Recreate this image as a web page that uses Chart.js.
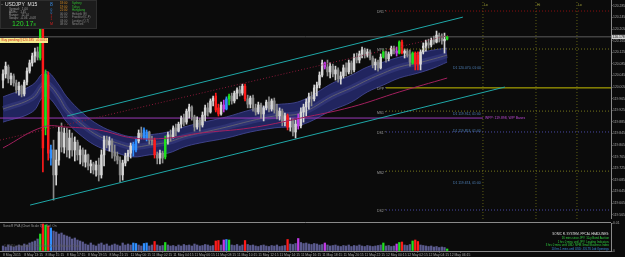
<!DOCTYPE html>
<html>
<head>
<meta charset="utf-8">
<script src="https://cdn.jsdelivr.net/npm/chart.js@4.4.1/dist/chart.umd.min.js"></script>
<style>
  html, body { margin: 0; padding: 0; background: #0b0b0b; }
  body { width: 625px; height: 257px; overflow: hidden; position: relative; }
  #mainBox { position: absolute; left: 0; top: 0; width: 625px; height: 219px; }
  #volBox { position: absolute; left: 0; top: 221px; width: 625px; height: 36px; }
</style>
</head>
<body>
<div id="mainBox"><canvas id="priceChart"></canvas></div>
<div id="volBox"><canvas id="volChart"></canvas></div>
<script>
// USDJPY M15, bars are [open, high, low, close]
const candles = [
  [120.029,120.064,120.002,120.050],[120.050,120.091,120.036,120.077],[120.074,120.081,120.019,120.033],[120.033,120.053,120.012,120.043],
  [120.043,120.050,120.008,120.019],[120.019,120.029,119.984,119.995],[119.995,120.022,119.977,120.008],[120.008,120.012,119.971,119.981],
  [119.981,120.029,119.974,120.022],[120.022,120.071,120.012,120.060],[120.060,120.098,120.053,120.088],[120.088,120.122,120.077,120.112],
  [120.112,120.139,120.091,120.126],[120.126,120.143,120.098,120.108],[120.105,120.243,120.098,120.229],[120.229,120.243,119.712,119.795],
  [119.864,120.064,119.840,120.050],[120.046,120.057,119.753,119.777],[119.760,119.805,119.736,119.788],[119.788,119.822,119.615,119.702],
  [119.702,119.788,119.667,119.753],[119.753,119.867,119.736,119.850],[119.850,119.881,119.781,119.798],[119.798,119.864,119.777,119.846],
  [119.846,119.864,119.764,119.788],[119.788,119.857,119.760,119.829],[119.829,119.846,119.767,119.788],[119.788,119.833,119.750,119.815],
  [119.815,119.822,119.753,119.771],[119.771,119.802,119.740,119.788],[119.788,119.795,119.733,119.746],[119.746,119.788,119.729,119.771],
  [119.771,119.774,119.719,119.733],[119.733,119.753,119.709,119.740],[119.740,119.746,119.705,119.719],[119.719,119.750,119.698,119.736],
  [119.736,119.760,119.681,119.702],[119.702,119.788,119.691,119.771],[119.771,119.836,119.733,119.822],[119.822,119.836,119.795,119.805],
  [119.805,119.833,119.784,119.819],[119.819,119.826,119.760,119.781],[119.781,119.805,119.750,119.767],[119.767,119.781,119.740,119.753],
  [119.753,119.764,119.677,119.702],[119.702,119.753,119.684,119.743],[119.743,119.777,119.733,119.767],[119.767,119.788,119.750,119.777],
  [119.777,119.812,119.760,119.802],[119.788,119.815,119.767,119.808],[119.788,119.826,119.781,119.819],[119.819,119.857,119.812,119.846],
  [119.846,119.867,119.826,119.836],[119.829,119.864,119.826,119.857],[119.826,119.857,119.819,119.850],[119.850,119.853,119.808,119.822],
  [119.822,119.836,119.805,119.819],[119.822,119.829,119.760,119.771],[119.771,119.781,119.740,119.760],[119.760,119.788,119.740,119.777],
  [119.777,119.784,119.743,119.760],[119.764,119.836,119.757,119.829],[119.829,119.850,119.808,119.840],[119.840,119.857,119.819,119.833],
  [119.833,119.871,119.829,119.864],[119.864,119.877,119.836,119.853],[119.853,119.884,119.850,119.877],[119.877,119.905,119.864,119.898],
  [119.898,119.912,119.871,119.884],[119.884,119.929,119.877,119.922],[119.922,119.946,119.898,119.936],[119.936,119.940,119.891,119.902],
  [119.902,119.908,119.853,119.867],[119.867,119.902,119.860,119.891],[119.891,119.898,119.853,119.874],[119.874,119.919,119.867,119.908],
  [119.908,119.943,119.888,119.933],[119.933,119.950,119.905,119.919],[119.919,119.964,119.915,119.957],[119.957,119.974,119.940,119.967],
  [119.974,119.984,119.919,119.926],[119.933,119.946,119.905,119.912],[119.912,119.953,119.908,119.943],[119.943,119.960,119.919,119.929],
  [119.929,119.971,119.926,119.964],[119.964,119.981,119.943,119.974],[119.974,119.984,119.946,119.957],[119.957,119.991,119.950,119.984],
  [119.984,120.002,119.964,119.995],[119.995,120.008,119.974,119.984],[119.984,120.015,119.977,120.008],[120.008,120.015,119.957,119.964],
  [119.964,119.977,119.933,119.946],[119.946,119.974,119.933,119.967],[119.967,119.977,119.922,119.933],[119.933,119.946,119.908,119.919],
  [119.919,119.953,119.912,119.943],[119.943,119.950,119.898,119.912],[119.912,119.940,119.888,119.933],[119.933,119.960,119.926,119.953],
  [119.953,119.971,119.919,119.929],[119.929,119.964,119.922,119.957],[119.957,119.967,119.915,119.926],[119.926,119.946,119.895,119.905],
  [119.905,119.933,119.891,119.922],[119.922,119.929,119.871,119.884],[119.884,119.915,119.871,119.905],[119.905,119.912,119.857,119.867],
  [119.867,119.898,119.853,119.888],[119.888,119.895,119.836,119.850],[119.850,119.891,119.829,119.877],[119.898,119.912,119.860,119.871],
  [119.871,119.933,119.864,119.919],[119.919,119.946,119.884,119.936],[119.936,119.964,119.905,119.953],[119.953,119.984,119.929,119.971],
  [119.971,119.988,119.940,119.964],[119.964,120.012,119.957,120.002],[120.002,120.022,119.974,120.012],[120.012,120.057,120.002,120.046],
  [120.046,120.098,120.040,120.088],[120.088,120.091,120.067,120.074],[120.074,120.098,120.043,120.057],[120.057,120.088,120.036,120.077],
  [120.077,120.084,120.040,120.050],[120.050,120.077,120.029,120.064],[120.064,120.071,120.022,120.033],[120.033,120.057,120.015,120.043],
  [120.043,120.081,120.036,120.071],[120.071,120.088,120.043,120.057],[120.057,120.098,120.050,120.088],[120.088,120.095,120.050,120.064],
  [120.064,120.119,120.057,120.108],[120.108,120.122,120.088,120.098],[120.098,120.129,120.088,120.119],[120.119,120.143,120.105,120.133],
  [120.133,120.139,120.105,120.115],[120.115,120.136,120.108,120.126],[120.126,120.133,120.098,120.105],[120.105,120.112,120.071,120.081],
  [120.081,120.102,120.064,120.091],[120.091,120.098,120.060,120.071],[120.071,120.119,120.067,120.108],[120.108,120.133,120.105,120.126],
  [120.126,120.129,120.091,120.102],[120.102,120.126,120.095,120.119],[120.119,120.146,120.112,120.139],[120.139,120.146,120.119,120.129],
  [120.129,120.143,120.112,120.122],[120.122,120.164,120.119,120.160],[120.160,120.167,120.119,120.122],[120.122,120.136,120.105,120.129],
  [120.129,120.136,120.108,120.115],[120.115,120.133,120.077,120.091],[120.088,120.126,120.084,120.122],[120.122,120.126,120.064,120.084],
  [120.115,120.126,120.064,120.084],[120.084,120.133,120.064,120.126],[120.126,120.157,120.119,120.146],[120.146,120.167,120.129,120.157],
  [120.157,120.170,120.139,120.150],[120.150,120.174,120.143,120.167],[120.167,120.181,120.153,120.160],[120.160,120.198,120.157,120.184],
  [120.184,120.191,120.160,120.174],[120.174,120.188,120.153,120.164],[120.164,120.191,120.122,120.170],[120.170,120.181,120.167,120.177]
];

const volumes = [
  1000,800,1200,1000,800,1000,1200,1000,1400,1200,1600,1800,
  2000,2400,3400,5400,5200,5000,4600,
  4000,3800,3400,3600,3200,3000,2800,2400,2600,2200,2000,1800,
  1400,1200,1600,1200,1000,1400,1600,1200,1400,1000,1200,1400,1200,1000,1600,1200,1400,1200,
  1600,1500,1200,1000,1500,1600,1000,1200,1900,1200,1000,1100,1700,
  1200,1000,1100,900,1200,1000,1300,1100,1200,1000,1400,1200,1000,1100,1300,1200,1000,1100,
  2000,2100,1200,2200,2300,2200,1200,1100,1300,1000,1200,2100,
  1300,1100,1200,1000,900,1100,1200,1000,900,1100,1000,1200,900,1000,1100,
  2300,1400,1300,1500,2500,1700,1500,1600,1400,1300,1500,1400,1200,1300,1600,
  1200,1000,1100,1200,1000,900,1100,1000,1200,900,1100,1000,1200,1000,900,1100,1000,900,1000,1100,1200,
  1600,1000,1100,900,1000,1400,1700,1800,1200,1100,1300,2000,2200,1900,
  1200,1100,1000,900,1000,800,900,700,800,700,400
];

// Sonic R PVA: up = climax bull, down = climax bear, riseUp / riseDown = rising volume
const pvaTypes = {
  14:'up', 15:'down', 16:'up', 17:'down', 18:'riseUp', 49:'riseUp', 50:'riseUp', 53:'riseUp', 54:'riseUp',
  57:'down', 61:'up', 80:'down', 81:'down', 83:'riseDown', 84:'riseUp', 85:'up', 91:'down', 107:'down',
  111:'riseDown', 121:'riseDown', 143:'up', 148:'riseDown', 149:'up', 150:'down', 154:'up', 155:'down',
  156:'down', 167:'up'
};

// dragon band (EMA34 high / low / close) and EMA89, [bar, price]
const dragonTop = [[0,119.971],[11,120.012],[15,120.053],[17,120.057],[21,120.012],[24,119.971],[30,119.915],[36,119.874],[43,119.846],[49,119.833],[55,119.840],[62,119.850],[68,119.867],[74,119.881],[84,119.902],[93,119.926],[102,119.943],[112,119.957],[124,120.019],[131,120.046],[137,120.074],[143,120.091],[149,120.108],[156,120.122],[162,120.133],[167,120.139]];
const dragonBottom = [[0,119.884],[11,119.919],[15,119.971],[17,119.971],[21,119.926],[24,119.884],[30,119.833],[36,119.798],[43,119.777],[49,119.764],[55,119.771],[62,119.777],[68,119.798],[74,119.812],[84,119.829],[93,119.850],[102,119.864],[112,119.874],[124,119.926],[131,119.953],[137,119.988],[143,120.012],[149,120.036],[156,120.053],[162,120.071],[167,120.091]];
const dragonMid = [[0,119.929],[11,119.967],[15,120.012],[17,120.015],[21,119.971],[24,119.926],[30,119.874],[36,119.836],[43,119.812],[49,119.798],[55,119.805],[62,119.815],[68,119.833],[74,119.846],[84,119.867],[93,119.888],[102,119.905],[112,119.915],[124,119.974],[131,120.002],[137,120.029],[143,120.053],[149,120.074],[156,120.088],[162,120.102],[167,120.115]];
const ema89 = [[0,119.795],[15,119.867],[24,119.867],[36,119.857],[49,119.829],[62,119.829],[74,119.846],[93,119.864],[112,119.898],[131,119.936],[149,119.988],[167,120.036]];

// trend channel drawn on the chart
const channelUpper = [[24.1,119.905],[172.9,120.246]];
const channelLower = [[10.2,119.598],[188.7,120.005]];
const channelMid = [[-1.1,119.822],[168.0,120.184]];

const pivotNames = ['DR1','MPP','DPP','MS1','DS1','MS2','DS2'];
const pivotPrices = [120.267,120.136,120.002,119.922,119.850,119.715,119.581];
const pivotStartBar = 144;
const weeklyPivot = 119.898;
const bidPrice = 120.178;

const levelNotes = ['D1 120.070, 01:00','D1 119.912, 01:00','D1 119.853, 01:00','D1 119.674, 01:00'];
const levelNotePrices = [120.070,119.912,119.853,119.674];

const sessionBars = [180.45,200.4,215.8];
const sessionLabels = ['Lo','Hi','Lo'];

const priceTicks = [120.285,120.245,120.205,120.165,120.125,120.085,120.045,120.005,119.965,119.925,119.885,119.845,119.805,119.765,119.725,119.685,119.645,119.605,119.565];
const timeTicks = [0,8,16,24,32,40,48,56,64,72,80,88,96,104,112,120,128,136,144,152,160,168];
const timeLabels = ['8 May 2015','8 May 13:15','8 May 15:15','8 May 17:15','8 May 19:15','8 May 21:15','11 May 00:15','11 May 02:15','11 May 04:15','11 May 06:15','11 May 08:15','11 May 10:15','11 May 12:15','11 May 14:15','11 May 16:15','11 May 18:15','11 May 20:15','11 May 22:15','12 May 00:15','12 May 02:15','12 May 04:15','12 May 06:15'];

const headlines = ['16 mins since JPY: 10-y Bond Auction','1 hrs 0 mins until JPY: Leading Indicators','3 hrs 0 mins until USD: NFIB Small Business Index','10 hrs 1 mins until USD: JOLTS Job Openings'];

const sessions = [['18:00','Sydney'],['19:00','Tokyo'],['21:00','Hongkong'],['00:00','Helsinki (E)'],['01:00','Frankfurt (L,F)'],['03:00','London (Q,T)'],['08:00','NewYork']];

const X_MIN = -1.13, X_MAX = 228.6;
const Y_MIN = 119.550, Y_MAX = 120.305;
const VOL_MAX = 5600;
const FONT = '"Liberation Sans", Arial, sans-serif';

const pvaColors = { up: '#1fe01f', down: '#ff1a1a', riseUp: '#2f8fff', riseDown: '#c23ae8' };
const pivotStyles = {
  DR1: ['#8c1010', [1, 2]], MPP: ['#77771c', [1, 2]], DPP: ['#c9c200', []], MS1: ['#77771c', [1, 2]],
  DS1: ['#4c4ca8', [1, 2]], MS2: ['#77771c', [1, 2]], DS2: ['#4c4ca8', [1, 2]]
};

function pts(arr) { return arr.map(p => ({ x: p[0], y: p[1] })); }

function barColor(i) {
  const t = pvaTypes[i];
  if (t) return pvaColors[t];
  return candles[i][3] >= candles[i][0] ? '#d6d6d6' : '#8a8a8a';
}

function volColor(i) {
  const t = pvaTypes[i];
  return t ? pvaColors[t] : '#5b5b8f';
}

function txt(ctx, s, x, y, size, color, align, weight) {
  ctx.font = (weight || '') + ' ' + size + 'px ' + FONT;
  ctx.fillStyle = color;
  ctx.textAlign = align || 'left';
  ctx.textBaseline = 'middle';
  ctx.fillText(s, x, y);
}

function lineSet(data, color, width, dash, order, extra) {
  return Object.assign({
    type: 'line', data: data, borderColor: color, borderWidth: width, borderDash: dash || [],
    pointRadius: 0, fill: false, tension: 0, order: order
  }, extra || {});
}

window.onload = function () {
  const barColors = candles.map((c, i) => barColor(i));

  const datasets = [
    lineSet(pts(dragonTop), 'rgba(72,76,156,0.8)', 1, [], 40, { fill: '+1', backgroundColor: 'rgba(36,40,104,0.9)', tension: 0.4 }),
    lineSet(pts(dragonBottom), 'rgba(72,76,156,0.8)', 1, [], 39, { tension: 0.4 }),
    lineSet(pts(dragonMid), 'rgba(70,74,150,0.4)', 6, [], 38, { tension: 0.4 }),
    lineSet(pts(dragonMid), '#5e5e70', 1, [], 37, { tension: 0.4 }),
    lineSet([{ x: X_MIN, y: weeklyPivot }, { x: sessionBars[0], y: weeklyPivot }], '#9a3ab8', 1, [], 30),
    lineSet([{ x: X_MIN, y: bidPrice }, { x: X_MAX, y: bidPrice }], '#5c5c5c', 1, [], 30),
    {
      type: 'bar', data: candles.map((c, i) => ({ x: i, y: [c[2], c[1]] })),
      backgroundColor: barColors, barThickness: 1, grouped: false, borderWidth: 0, order: 20
    },
    {
      type: 'bar', data: candles.map((c, i) => ({ x: i, y: [c[0], c[3]] })),
      backgroundColor: barColors, barThickness: 1.8, grouped: false, borderWidth: 0, order: 19
    },
    lineSet(pts(ema89), '#a3205e', 1, [], 5, { tension: 0.4 }),
    lineSet(pts(channelUpper), '#1fa8a8', 1, [], 4),
    lineSet(pts(channelLower), '#1fa8a8', 1, [], 4),
    lineSet(pts(channelMid), '#8a1a3a', 1, [1, 2], 4)
  ];

  pivotNames.forEach((name, k) => {
    const st = pivotStyles[name];
    datasets.push(lineSet([{ x: pivotStartBar, y: pivotPrices[k] }, { x: X_MAX, y: pivotPrices[k] }], st[0], 1, st[1], 8));
  });
  sessionBars.forEach(b => {
    datasets.push(lineSet([{ x: b, y: Y_MIN }, { x: b, y: Y_MAX }], '#5e5e14', 1, [1, 2], 8));
  });

  const mainOverlay = {
    id: 'mainOverlay',
    afterDraw(chart) {
      const ctx = chart.ctx, xs = chart.scales.x, ys = chart.scales.y;
      ctx.save();

      // pivot names
      pivotNames.forEach((name, k) => {
        txt(ctx, name + ' *', xs.getPixelForValue(pivotStartBar) - 9, ys.getPixelForValue(pivotPrices[k]) + 1.5, 3.4, '#a0a0a0');
      });
      levelNotes.forEach((s, k) => {
        txt(ctx, s, xs.getPixelForValue(169.2), ys.getPixelForValue(levelNotePrices[k]), 3.4, '#4f80b8');
      });
      txt(ctx, 'WPP: ' + weeklyPivot.toFixed(3) + ', W/P Bases', xs.getPixelForValue(sessionBars[0]) + 2, ys.getPixelForValue(weeklyPivot), 3.4, '#c04ad8');
      sessionBars.forEach((b, k) => {
        txt(ctx, sessionLabels[k], xs.getPixelForValue(b) + 1, 5, 3.4, '#a8a83a');
      });

      // pending order tag
      ctx.fillStyle = '#f3e98c';
      ctx.fillRect(0, 38, 48, 5);
      txt(ctx, 'Buy pending@120.185  +0.0015', 1.5, 40.6, 3.2, '#d2281a');

      // info panel
      ctx.fillStyle = '#1c1c1c';
      ctx.fillRect(0, 0, 97, 29);
      ctx.strokeStyle = '#2e2e2e';
      ctx.lineWidth = 1;
      ctx.strokeRect(0.5, 0.5, 96, 28);
      txt(ctx, '\u25AA', 1.5, 4, 3, '#bbbbbb');
      txt(ctx, 'USDJPY  M15', 5, 4.5, 5, '#e6e6e6');
      txt(ctx, 'Spread:   1.00', 9, 9.5, 3, '#9a9a9a');
      txt(ctx, 'ADRs:   1.45', 9, 12.5, 3, '#9a9a9a');
      txt(ctx, 'Range:   12.14', 9, 15.5, 3, '#9a9a9a');
      txt(ctx, 'Swaps:  -0.06  -0.08', 9, 18.5, 3, '#9a9a9a');
      txt(ctx, '120.17', 12, 24.5, 7, '#2ad82a');
      txt(ctx, '8', 33.5, 25.3, 4, '#2ad82a');
      txt(ctx, '8', 50, 5, 5, '#3a8ee8');
      txt(ctx, '0', 50.5, 10.3, 3.2, '#3a8ee8');
      txt(ctx, '0', 50.5, 13.3, 3.2, '#3a8ee8');
      txt(ctx, '1', 50.5, 16.3, 3.2, '#d02020');
      txt(ctx, '1', 50.5, 19.3, 3.2, '#d02020');
      txt(ctx, 'M', 50, 24, 3.6, '#d02020');
      sessions.forEach((s, k) => {
        const y = 3.6 + k * 3.5;
        txt(ctx, s[0], 60, y, 2.9, k < 3 ? '#d98a1e' : '#8a8a8a');
        txt(ctx, s[1], 72, y, 2.9, k < 3 ? '#2fbf2f' : '#8a8a8a');
      });

      // current price tag on the axis
      const py = ys.getPixelForValue(bidPrice);
      ctx.fillStyle = '#cfcfcf';
      ctx.fillRect(xs.right + 1, py - 2, 13, 4.2);
      txt(ctx, bidPrice.toFixed(3), xs.right + 1.5, py + 0.1, 3.4, '#101010');
      ctx.restore();
    }
  };

  new Chart(document.getElementById('priceChart'), {
    type: 'bar',
    data: { datasets: datasets },
    options: {
      responsive: true, maintainAspectRatio: false, animation: false, events: [],
      layout: { padding: 0 },
      plugins: { legend: { display: false }, tooltip: { enabled: false } },
      scales: {
        x: { type: 'linear', min: X_MIN, max: X_MAX, offset: false, display: false },
        y: {
          type: 'linear', position: 'right', min: Y_MIN, max: Y_MAX,
          grid: { drawOnChartArea: false, drawTicks: true, tickLength: 1.5, color: '#8a8a8a' },
          border: { display: true, color: '#8a8a8a' },
          ticks: { font: { size: 3.4, family: FONT }, color: '#a6a6a6', padding: 0.5, callback: v => v.toFixed(3) },
          afterBuildTicks: s => { s.ticks = priceTicks.map(v => ({ value: v })); },
          afterFit: s => { s.width = 14; s.paddingTop = 0; s.paddingBottom = 0; }
        }
      }
    },
    plugins: [mainOverlay]
  });

  const volOverlay = {
    id: 'volOverlay',
    afterDraw(chart) {
      const ctx = chart.ctx, area = chart.chartArea;
      ctx.save();
      ctx.strokeStyle = '#8a8a8a';
      ctx.lineWidth = 1;
      ctx.beginPath();
      ctx.moveTo(0, 1.5);
      ctx.lineTo(area.right, 1.5);
      ctx.stroke();
      txt(ctx, 'SonicR PVA (Chart Scale 3)', 3, 5.5, 3.2, '#9a9a9a');
      txt(ctx, 'Vol: On', 46, 5.5, 3.2, '#9a9a9a');
      txt(ctx, '\u00A9 2015 Latinotrader. \u00A9 2015 MetaQuotes Software Corp.', 4, 25.5, 3, '#5e5e5e');
      txt(ctx, 'SONIC R. SYSTEM. PPCAL HEADLINES:', area.right - 2, 13, 3, '#e0e0e0', 'right');
      headlines.forEach((s, k) => {
        txt(ctx, s, area.right - 2, 17.3 + k * 3.6, 2.8, k < 3 ? '#2fcf3f' : '#3a8ee0', 'right');
      });
      ctx.restore();
    }
  };

  new Chart(document.getElementById('volChart'), {
    type: 'bar',
    data: {
      datasets: [{
        data: volumes.map((v, i) => ({ x: i, y: v })),
        backgroundColor: volumes.map((v, i) => volColor(i)),
        barThickness: 1.6, borderWidth: 0
      }]
    },
    options: {
      responsive: true, maintainAspectRatio: false, animation: false, events: [],
      layout: { padding: { top: 2, left: 0, right: 0, bottom: 0 } },
      plugins: { legend: { display: false }, tooltip: { enabled: false } },
      scales: {
        x: {
          type: 'linear', min: X_MIN, max: X_MAX, offset: false, position: 'bottom',
          grid: { drawOnChartArea: false, tickLength: 1.5, color: '#8a8a8a' },
          border: { display: true, color: '#8a8a8a' },
          ticks: {
            font: { size: 3.4, family: FONT }, color: '#a6a6a6', align: 'start', autoSkip: false,
            maxRotation: 0, minRotation: 0, padding: 0.5, callback: (v, i) => timeLabels[i]
          },
          afterBuildTicks: s => { s.ticks = timeTicks.map(v => ({ value: v })); },
          afterFit: s => { s.height = 6; s.paddingLeft = 0; s.paddingRight = 0; }
        },
        y: {
          position: 'right', min: 0, max: VOL_MAX,
          grid: { drawOnChartArea: false, tickLength: 1.5, color: '#8a8a8a' },
          border: { display: true, color: '#8a8a8a' },
          ticks: { font: { size: 3.4, family: FONT }, color: '#a6a6a6', padding: 0.5, callback: v => (v === 0 ? '0' : '0.01') },
          afterBuildTicks: s => { s.ticks = [{ value: 0 }, { value: VOL_MAX }]; },
          afterFit: s => { s.width = 14; s.paddingTop = 0; s.paddingBottom = 0; }
        }
      }
    },
    plugins: [volOverlay]
  });
};
</script>
</body>
</html>
